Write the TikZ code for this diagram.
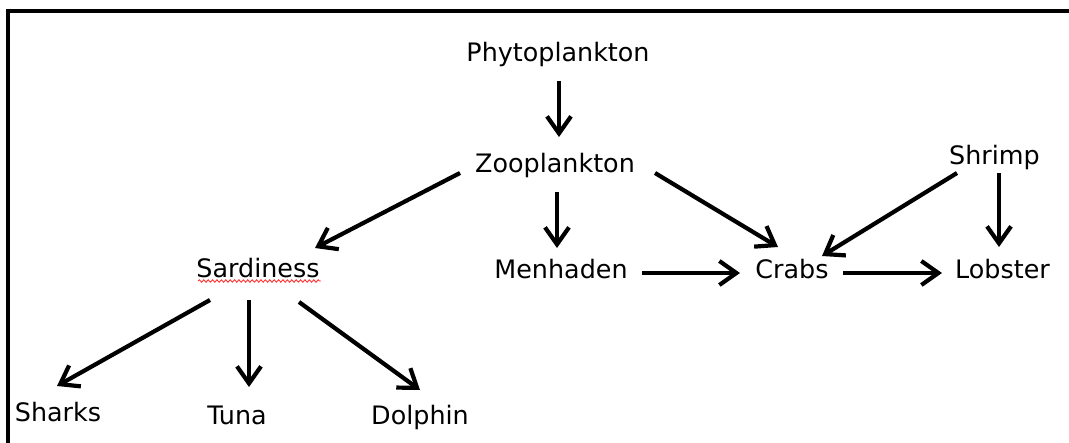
\documentclass[tikz,border=0pt]{standalone}
\usepackage{fontspec}
\setmainfont{DejaVu Sans}
\usetikzlibrary{arrows.meta,decorations.pathmorphing}
\begin{document}
\begin{tikzpicture}[x=0.5pt,y=-0.5pt,
  species/.style={anchor=base,inner sep=0pt,font=\fontsize{12.7pt}{15pt}\selectfont},
  arr/.style={line width=2.1pt,-{Straight Barb[length=8.5pt,width=12pt]}},
  frame/.style={line width=2pt,line join=miter},
  spell/.style={red!80,line width=0.45pt,decorate,
    decoration={snake,amplitude=0.6pt,segment length=2.2pt}}]
\useasboundingbox (0,0) rectangle (1069,443);

% open frame: top and left edges
\coordinate (fbl) at (7.5,443);
\coordinate (ftl) at (7.5,11);
\coordinate (ftr) at (1069,11);
\draw[frame] (fbl) -- (ftl) -- (ftr);

% species
\node[species] (phyto)  at (558,62)    {Phytoplankton};
\node[species] (zoo)    at (555,173)   {Zooplankton};
\node[species] (shrimp) at (994.5,165) {Shrimp};
\node[species] (sard)   at (258,277)   {Sardiness};
\node[species] (menh)   at (561,278)   {Menhaden};
\node[species] (crabs)  at (792,278)   {Crabs};
\node[species] (lob)    at (1002.5,278){Lobster};
\node[species] (sharks) at (58,421)    {Sharks};
\node[species] (tuna)   at (237,424)   {Tuna};
\node[species] (dolph)  at (420,424)   {Dolphin};

% spell-check underline
\draw[spell] ([shift={(-60,4)}]sard.base) -- ([shift={(63,4)}]sard.base);

% feeding links
\draw[arr] ([shift={(1,19)}]phyto.base)     -- ([shift={(4,-36)}]zoo.base);
\draw[arr] ([shift={(-95,0)}]zoo.base)      -- ([shift={(57,-29)}]sard.base);
\draw[arr] ([shift={(2,19)}]zoo.base)       -- ([shift={(-4,-30)}]menh.base);
\draw[arr] ([shift={(100,0)}]zoo.base)      -- ([shift={(-14,-31)}]crabs.base);
\draw[arr] ([shift={(-37.5,8)}]shrimp.base) -- ([shift={(30,-22)}]crabs.base);
\draw[arr] ([shift={(4.5,8)}]shrimp.base)   -- ([shift={(-3.5,-31)}]lob.base);
\draw[arr] ([shift={(81,-5)}]menh.base)     -- ([shift={(-52,-5)}]crabs.base);
\draw[arr] ([shift={(51,-5)}]crabs.base)    -- ([shift={(-60.5,-5)}]lob.base);
\draw[arr] ([shift={(-48,23)}]sard.base)    -- ([shift={(-1,-35)}]sharks.base);
\draw[arr] ([shift={(-9,23)}]sard.base)     -- ([shift={(12,-37)}]tuna.base);
\draw[arr] ([shift={(41,25)}]sard.base)     -- ([shift={(0,-34)}]dolph.base);
\end{tikzpicture}
\end{document}
